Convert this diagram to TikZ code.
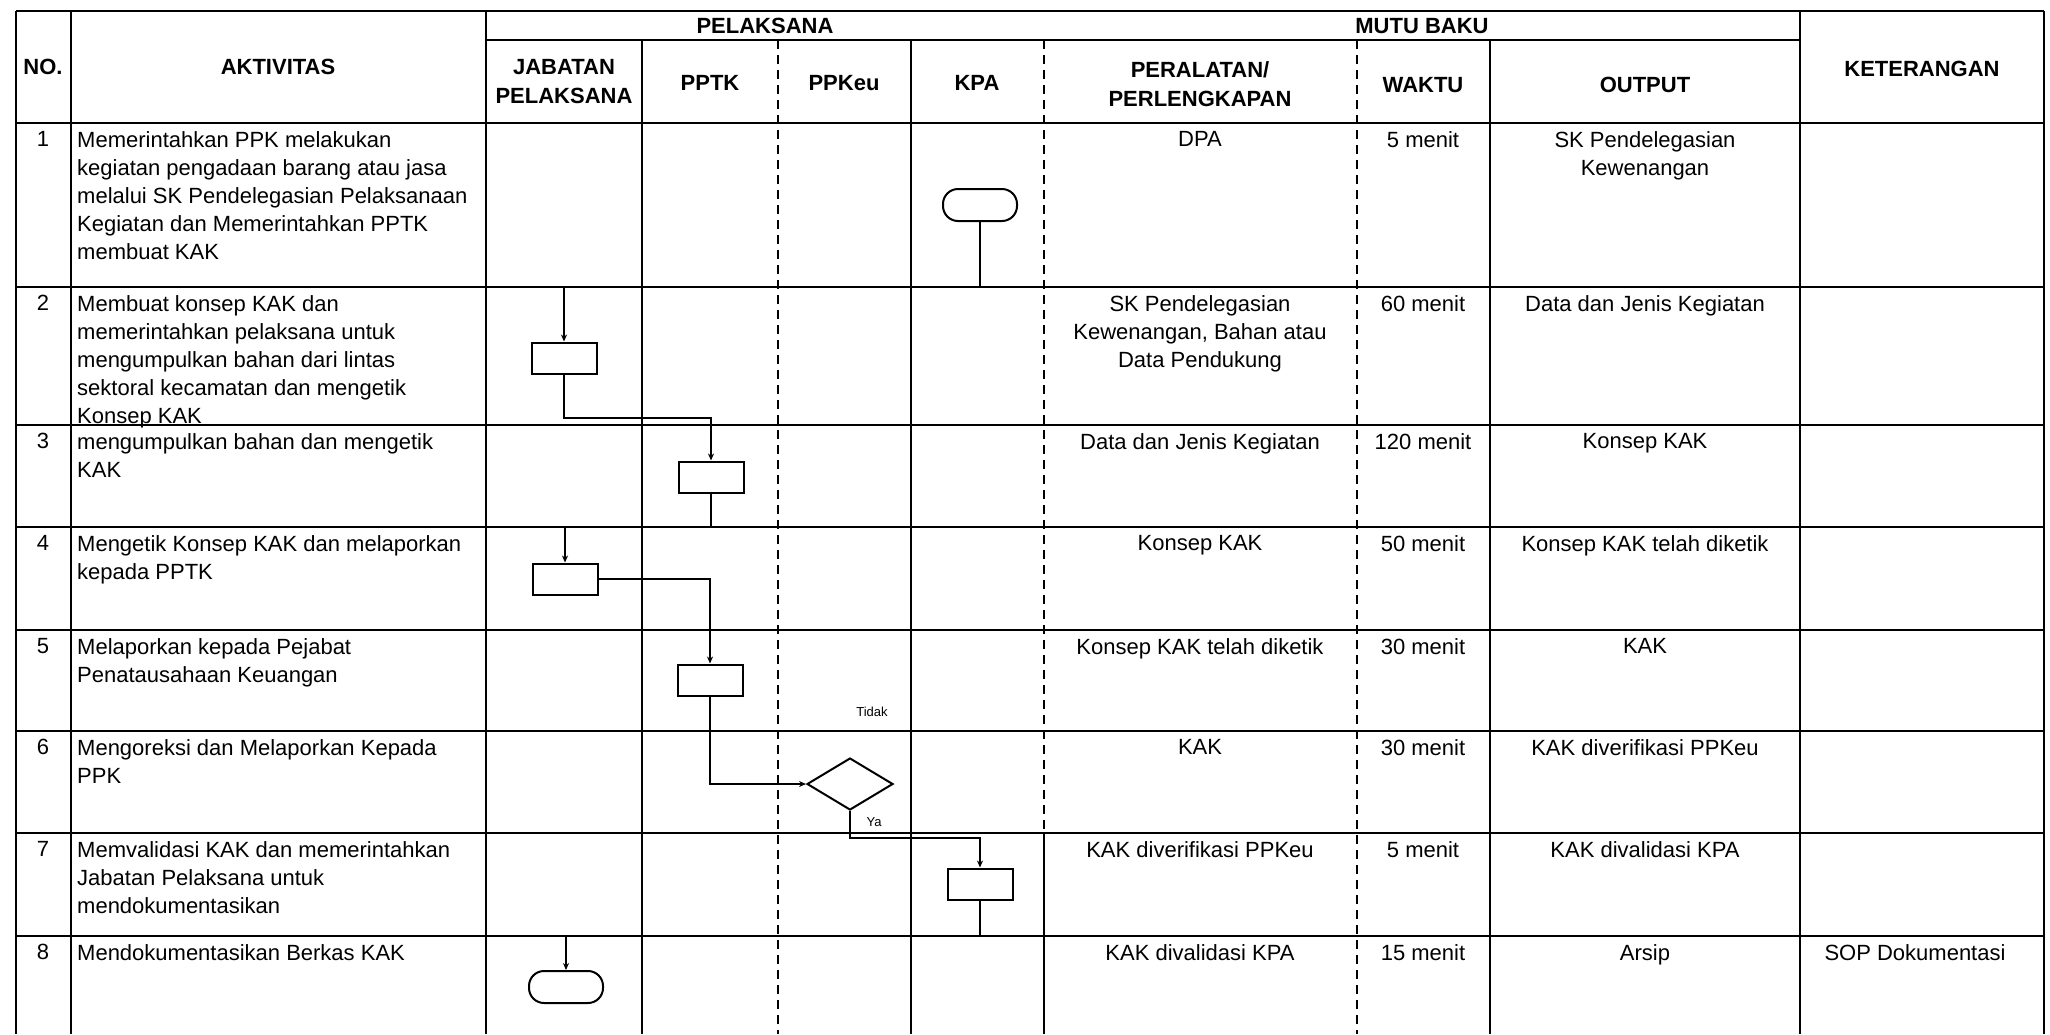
\documentclass[tikz,border=0pt]{standalone}
\usepackage{fontspec}
\setmainfont{Liberation Sans}
\usetikzlibrary{shapes.geometric,arrows.meta}
\begin{document}
\begin{tikzpicture}[x=1pt,y=-1pt,
  grid/.style={line width=2.4pt},
  faint/.style={line width=1.6pt, dash pattern=on 9pt off 6pt},
  proc/.style={draw, line width=2pt, minimum width=65pt, minimum height=31pt, inner sep=0pt},
  term/.style={draw, line width=2pt, rounded corners=15pt, minimum width=74pt, minimum height=32pt, inner sep=0pt},
  dec/.style={draw, diamond, line width=2pt, minimum width=86pt, minimum height=52pt, inner sep=0pt, aspect=1.65},
  flow/.style={line width=2pt, -{Stealth[length=7pt,width=6pt]}},
  body/.style={font=\fontsize{22}{28}\selectfont, inner sep=0pt},
  act/.style={body, anchor=north west, align=left},
  cell/.style={body, anchor=north, align=center},
  head/.style={font=\bfseries\fontsize{22}{29}\selectfont, inner sep=0pt, align=center},
  lbl/.style={font=\fontsize{13}{15}\selectfont, inner sep=0pt}
]
\fill[white] (0,0) rectangle (2050,1034);
\useasboundingbox (0,0) rectangle (2050,1034);

% ---------- table grid ----------
\draw[grid] (16,11) -- (2044,11);
\draw[grid] (486,40) -- (1800,40);
\foreach \yy in {123,287,425,527,630,731,833,936}
  \draw[grid] (16,\yy) -- (2044,\yy);
\foreach \xx in {16,71,486,1800,2044}
  \draw[grid] (\xx,11) -- (\xx,1034);
\foreach \xx in {642,911,1490}
  \draw[grid] (\xx,40) -- (\xx,1034);
\draw[faint] (778,40) -- (778,1034);
\draw[faint] (1357,40) -- (1357,1034);
\draw[faint] (1044,40) -- (1044,833);
\draw[grid] (1044,833) -- (1044,1034);

% ---------- headers ----------
\node[head] (hpel) at (765,26) {PELAKSANA};
\node[head] (hmutu) at (1422,26) {MUTU BAKU};
\node[head] (hno) at (43,67) {NO.};
\node[head] (hakt) at (278,67) {AKTIVITAS};
\node[head] (hjab) at (564,82) {JABATAN\\PELAKSANA};
\node[head] (hpptk) at (710,83) {PPTK};
\node[head] (hppkeu) at (844,83) {PPKeu};
\node[head] (hkpa) at (977,83) {KPA};
\node[head] (hper) at (1200,84) {PERALATAN/\\PERLENGKAPAN};
\node[head] (hwak) at (1423,85) {WAKTU};
\node[head] (hout) at (1645,85) {OUTPUT};
\node[head] (hket) at (1922,69) {KETERANGAN};

% ---------- numbers ----------
\node[cell] (n1) at (43,131) {1};
\node[cell] (n2) at (43,295) {2};
\node[cell] (n3) at (43,433) {3};
\node[cell] (n4) at (43,535) {4};
\node[cell] (n5) at (43,638) {5};
\node[cell] (n6) at (43,739) {6};
\node[cell] (n7) at (43,841) {7};
\node[cell] (n8) at (43,944) {8};

% ---------- activities ----------
\node[act] (a1) at (77,131) {Memerintahkan PPK melakukan\\kegiatan pengadaan barang atau jasa\\melalui SK Pendelegasian Pelaksanaan\\Kegiatan dan Memerintahkan PPTK\\membuat KAK};
\node[act] (a2) at (77,295) {Membuat konsep KAK dan\\memerintahkan pelaksana untuk\\mengumpulkan bahan dari lintas\\sektoral kecamatan dan mengetik\\Konsep KAK};
\node[act] (a3) at (77,433) {mengumpulkan bahan dan mengetik\\KAK};
\node[act] (a4) at (77,535) {Mengetik Konsep KAK dan melaporkan\\kepada PPTK};
\node[act] (a5) at (77,638) {Melaporkan kepada Pejabat\\Penatausahaan Keuangan};
\node[act] (a6) at (77,739) {Mengoreksi dan Melaporkan Kepada\\PPK};
\node[act] (a7) at (77,841) {Memvalidasi KAK dan memerintahkan\\Jabatan Pelaksana untuk\\mendokumentasikan};
\node[act] (a8) at (77,944) {Mendokumentasikan Berkas KAK};

% ---------- peralatan ----------
\node[cell] (p1) at (1200,131) {DPA};
\node[cell] (p2) at (1200,295) {SK Pendelegasian\\Kewenangan, Bahan atau\\Data Pendukung};
\node[cell] (p3) at (1200,433) {Data dan Jenis Kegiatan};
\node[cell] (p4) at (1200,535) {Konsep KAK};
\node[cell] (p5) at (1200,638) {Konsep KAK telah diketik};
\node[cell] (p6) at (1200,739) {KAK};
\node[cell] (p7) at (1200,841) {KAK diverifikasi PPKeu};
\node[cell] (p8) at (1200,944) {KAK divalidasi KPA};

% ---------- waktu ----------
\node[cell] (w1) at (1423,131) {5 menit};
\node[cell] (w2) at (1423,295) {60 menit};
\node[cell] (w3) at (1423,433) {120 menit};
\node[cell] (w4) at (1423,535) {50 menit};
\node[cell] (w5) at (1423,638) {30 menit};
\node[cell] (w6) at (1423,739) {30 menit};
\node[cell] (w7) at (1423,841) {5 menit};
\node[cell] (w8) at (1423,944) {15 menit};

% ---------- output ----------
\node[cell] (o1) at (1645,131) {SK Pendelegasian\\Kewenangan};
\node[cell] (o2) at (1645,295) {Data dan Jenis Kegiatan};
\node[cell] (o3) at (1645,433) {Konsep KAK};
\node[cell] (o4) at (1645,535) {Konsep KAK telah diketik};
\node[cell] (o5) at (1645,638) {KAK};
\node[cell] (o6) at (1645,739) {KAK diverifikasi PPKeu};
\node[cell] (o7) at (1645,841) {KAK divalidasi KPA};
\node[cell] (o8) at (1645,944) {Arsip};

% ---------- keterangan ----------
\node[cell] (k8) at (1915,944) {SOP Dokumentasi};

% ---------- flowchart symbols ----------
\node[term] (t1) at (980,205) {};
\node[proc] (b2) at (564,358) {};
\node[proc] (b3) at (711,477) {};
\node[proc] (b4) at (565,579) {};
\node[proc] (b5) at (710,680) {};
\node[dec]  (d6) at (850,784) {};
\node[proc] (b7) at (980,884) {};
\node[term] (t8) at (566,987) {};

\coordinate (c1) at (980,287);
\coordinate (c2) at (564,418);
\coordinate (c3) at (711,527);
\coordinate (c4) at (710,579);
\coordinate (c5) at (710,784);
\coordinate (c6) at (850,838);
\coordinate (c7) at (980,936);

\draw[flow] (t1.south) -- (c1) -| (b2.north);
\draw[flow] (b2.south) -- (c2) -| (b3.north);
\draw[flow] (b3.south) -- (c3) -| (b4.north);
\draw[flow] (b4.east) -- (c4) -- (b5.north);
\draw[flow] (b5.south) -- (c5) -- (d6.west);
\draw[flow] (d6.south) -- (c6) -| (b7.north);
\draw[flow] (b7.south) -- (c7) -| (t8.north);

\node[lbl] (ltidak) at (872,712) {Tidak};
\node[lbl] (lya) at (874,822) {Ya};
\end{tikzpicture}
\end{document}
